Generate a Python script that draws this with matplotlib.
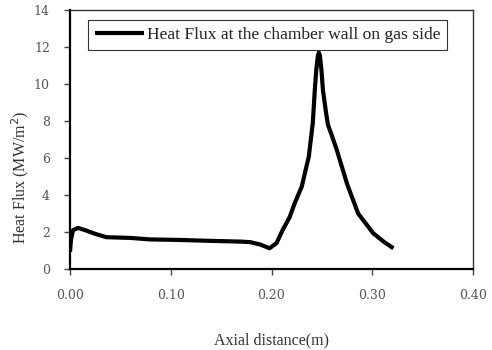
import matplotlib
matplotlib.use("Agg")
import matplotlib.pyplot as plt

axial_distance = [0.000, 0.001, 0.003, 0.008, 0.015, 0.025, 0.036, 0.060, 0.079, 0.109,
                  0.140, 0.170, 0.179, 0.189, 0.198, 0.205, 0.211, 0.218, 0.223, 0.230,
                  0.237, 0.241, 0.243, 0.2445, 0.246, 0.247, 0.248, 0.2495, 0.251, 0.254,
                  0.256, 0.260, 0.265, 0.275, 0.286, 0.301, 0.312, 0.321]
heat_flux = [0.92, 1.60, 2.10, 2.22, 2.10, 1.90, 1.72, 1.68, 1.60, 1.57,
             1.52, 1.48, 1.45, 1.32, 1.12, 1.40, 2.10, 2.80, 3.55, 4.45,
             6.07, 7.90, 9.70, 10.80, 11.50, 11.70, 11.55, 10.80, 9.70, 8.50,
             7.80, 7.20, 6.40, 4.60, 3.00, 1.93, 1.45, 1.12]
x_ticks = [0.00, 0.10, 0.20, 0.30, 0.40]
x_tick_labels = ["0.00", "0.10", "0.20", "0.30", "0.40"]
y_ticks = [0, 2, 4, 6, 8, 10, 12, 14]
legend_label = "Heat Flux at the chamber wall on gas side"

serif = ["Liberation Serif", "DejaVu Serif"]
tick_font = ["DejaVu Serif"]

fig = plt.figure(figsize=(4.92, 3.5), dpi=100)
ax = fig.add_axes([70/492, 81/350, 403/492, 259/350])

ax.plot(axial_distance, heat_flux, color="black", lw=3.0,
        solid_joinstyle="round", solid_capstyle="butt", label=legend_label)

ax.set_xlim(0, 0.40)
ax.set_ylim(0, 14)
ax.set_xticks(x_ticks)
ax.set_xticklabels(x_tick_labels)
ax.set_yticks(y_ticks)

for s in ["left", "bottom"]:
    ax.spines[s].set_linewidth(1.6)
    ax.spines[s].set_color("black")
for s in ["top", "right"]:
    ax.spines[s].set_linewidth(1.0)
    ax.spines[s].set_color("#333333")

ax.tick_params(axis="both", direction="out", length=4.5, width=1.0, color="#444444",
               labelsize=9, labelcolor="#555555")
ax.tick_params(axis="x", pad=10)
ax.tick_params(axis="y", pad=10)
for lbl in ax.get_xticklabels() + ax.get_yticklabels():
    lbl.set_family(tick_font)

ax.set_xlabel("Axial distance(m)", family=serif, fontsize=11.5, color="#333333")
ax.xaxis.set_label_coords(0.5, -0.274)
ax.xaxis.label.set_va("center")
ax.set_ylabel("Heat Flux (MW/m$^2$)", family=serif, fontsize=11.5, color="#333333")
ax.yaxis.set_label_coords(-0.124, 0.355)
ax.yaxis.label.set_va("center")

leg = ax.legend(loc="upper left", bbox_to_anchor=(0.045, 0.963), frameon=True, fancybox=False,
                edgecolor="#333333", framealpha=1, handlelength=2.8, handletextpad=0.15,
                borderpad=0.4, borderaxespad=0, prop={"family": serif, "size": 12.6})
leg.get_frame().set_linewidth(0.8)
for t in leg.get_texts():
    t.set_color("#222222")

fig.savefig("out.png", dpi=100)
